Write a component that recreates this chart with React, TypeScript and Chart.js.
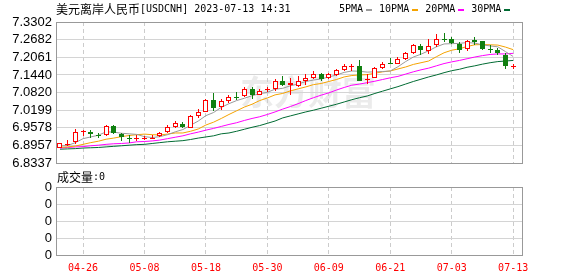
import React, { useEffect, useRef } from 'react';
import { Chart, registerables } from 'chart.js';

Chart.register(...registerables);

// ---------- data ----------
const dates = [
  '04-21', '04-24', '04-25', '04-26', '04-27', '04-28', '05-01', '05-02', '05-03', '05-04',
  '05-05', '05-08', '05-09', '05-10', '05-11', '05-12', '05-15', '05-16', '05-17', '05-18',
  '05-19', '05-22', '05-23', '05-24', '05-25', '05-26', '05-29', '05-30', '05-31', '06-01',
  '06-02', '06-05', '06-06', '06-07', '06-08', '06-09', '06-12', '06-13', '06-14', '06-15',
  '06-16', '06-19', '06-20', '06-21', '06-22', '06-23', '06-26', '06-27', '06-28', '06-29',
  '06-30', '07-03', '07-04', '07-05', '07-06', '07-07', '07-10', '07-11', '07-12', '07-13',
];

const open = [
  6.888, 6.900, 6.909, 6.946, 6.944, 6.933, 6.933, 6.965, 6.935, 6.924,
  6.923, 6.922, 6.923, 6.929, 6.943, 6.960, 6.971, 6.958, 7.000, 7.015,
  7.055, 7.030, 7.051, 7.067, 7.070, 7.095, 7.074, 7.092, 7.095, 7.121,
  7.110, 7.106, 7.124, 7.135, 7.149, 7.133, 7.144, 7.161, 7.176, 7.177,
  7.129, 7.135, 7.167, 7.185, 7.184, 7.201, 7.222, 7.245, 7.228, 7.249,
  7.270, 7.270, 7.254, 7.236, 7.268, 7.262, 7.237, 7.233, 7.214, 7.174,
];
const high = [
  6.906, 6.916, 6.954, 6.952, 6.952, 6.940, 6.967, 6.969, 6.940, 6.933,
  6.933, 6.928, 6.934, 6.944, 6.969, 6.982, 6.978, 7.003, 7.026, 7.061,
  7.080, 7.058, 7.072, 7.084, 7.101, 7.101, 7.095, 7.101, 7.129, 7.141,
  7.135, 7.139, 7.147, 7.158, 7.152, 7.152, 7.164, 7.183, 7.183, 7.196,
  7.147, 7.172, 7.190, 7.204, 7.206, 7.224, 7.253, 7.253, 7.271, 7.287,
  7.291, 7.276, 7.260, 7.268, 7.276, 7.264, 7.249, 7.239, 7.222, 7.182,
];
const low = [
  6.886, 6.893, 6.900, 6.929, 6.923, 6.921, 6.930, 6.937, 6.912, 6.906,
  6.912, 6.917, 6.919, 6.926, 6.940, 6.958, 6.958, 6.956, 6.994, 7.013,
  7.017, 7.021, 7.047, 7.055, 7.067, 7.061, 7.072, 7.084, 7.089, 7.106,
  7.072, 7.101, 7.109, 7.129, 7.121, 7.129, 7.141, 7.158, 7.158, 7.122,
  7.112, 7.133, 7.164, 7.181, 7.181, 7.198, 7.216, 7.214, 7.219, 7.242,
  7.260, 7.253, 7.222, 7.228, 7.251, 7.233, 7.222, 7.214, 7.165, 7.165,
];
const close = [
  6.903, 6.901, 6.943, 6.947, 6.935, 6.932, 6.963, 6.940, 6.927, 6.923,
  6.924, 6.923, 6.924, 6.940, 6.960, 6.974, 6.962, 7.001, 7.013, 7.055,
  7.029, 7.051, 7.067, 7.066, 7.095, 7.074, 7.088, 7.093, 7.121, 7.110,
  7.116, 7.121, 7.135, 7.149, 7.129, 7.149, 7.160, 7.177, 7.177, 7.124,
  7.130, 7.167, 7.184, 7.184, 7.200, 7.220, 7.249, 7.230, 7.245, 7.270,
  7.269, 7.256, 7.233, 7.264, 7.260, 7.237, 7.236, 7.220, 7.176, 7.175,
];

const ma5 = [
  6.894, 6.896, 6.906, 6.920, 6.926, 6.932, 6.944, 6.943, 6.939, 6.937,
  6.935, 6.927, 6.924, 6.927, 6.934, 6.944, 6.952, 6.967, 6.982, 7.001,
  7.012, 7.030, 7.043, 7.054, 7.062, 7.071, 7.078, 7.083, 7.094, 7.097,
  7.106, 7.112, 7.121, 7.126, 7.130, 7.137, 7.144, 7.153, 7.158, 7.157,
  7.154, 7.155, 7.156, 7.158, 7.173, 7.191, 7.207, 7.217, 7.229, 7.243,
  7.253, 7.254, 7.255, 7.258, 7.256, 7.250, 7.246, 7.243, 7.226, 7.209,
];
const ma10 = [
  6.889, 6.891, 6.894, 6.900, 6.906, 6.911, 6.918, 6.922, 6.927, 6.931,
  6.934, 6.936, 6.934, 6.933, 6.936, 6.940, 6.940, 6.946, 6.954, 6.968,
  6.978, 6.991, 7.005, 7.018, 7.031, 7.041, 7.054, 7.063, 7.074, 7.079,
  7.088, 7.095, 7.102, 7.110, 7.114, 7.121, 7.128, 7.137, 7.142, 7.144,
  7.145, 7.150, 7.155, 7.158, 7.165, 7.172, 7.181, 7.187, 7.193, 7.208,
  7.222, 7.231, 7.236, 7.244, 7.250, 7.251, 7.250, 7.249, 7.242, 7.233,
];
const ma20 = [
  6.887, 6.889, 6.891, 6.892, 6.895, 6.897, 6.900, 6.902, 6.903, 6.905,
  6.909, 6.910, 6.912, 6.915, 6.920, 6.925, 6.930, 6.937, 6.943, 6.950,
  6.956, 6.963, 6.970, 6.976, 6.984, 6.991, 6.997, 7.005, 7.014, 7.024,
  7.033, 7.043, 7.054, 7.064, 7.073, 7.081, 7.091, 7.100, 7.108, 7.112,
  7.117, 7.122, 7.128, 7.134, 7.139, 7.147, 7.155, 7.162, 7.168, 7.176,
  7.184, 7.190, 7.195, 7.201, 7.207, 7.212, 7.216, 7.218, 7.218, 7.220,
];
const ma30 = [
  6.883, 6.884, 6.885, 6.887, 6.888, 6.889, 6.891, 6.893, 6.895, 6.897,
  6.899, 6.900, 6.903, 6.906, 6.909, 6.911, 6.913, 6.917, 6.922, 6.926,
  6.930, 6.937, 6.940, 6.946, 6.953, 6.960, 6.966, 6.974, 6.982, 6.993,
  7.000, 7.007, 7.014, 7.020, 7.027, 7.034, 7.041, 7.049, 7.057, 7.064,
  7.070, 7.079, 7.087, 7.095, 7.103, 7.112, 7.121, 7.129, 7.137, 7.144,
  7.152, 7.159, 7.164, 7.171, 7.176, 7.182, 7.187, 7.191, 7.193, 7.195,
];

const volume = [
  0, 0, 0, 0, 0, 0, 0, 0, 0, 0, 0, 0, 0, 0, 0, 0, 0, 0, 0, 0,
  0, 0, 0, 0, 0, 0, 0, 0, 0, 0, 0, 0, 0, 0, 0, 0, 0, 0, 0, 0,
  0, 0, 0, 0, 0, 0, 0, 0, 0, 0, 0, 0, 0, 0, 0, 0, 0, 0, 0, 0,
];

const yTicks = [6.8337, 6.8957, 6.9578, 7.0199, 7.082, 7.144, 7.2061, 7.2682, 7.3302];
const yTickLabels = ['6.8337', '6.8957', '6.9578', '7.0199', '7.0820', '7.1440', '7.2061', '7.2682', '7.3302'];
const xTickLabels = ['04-26', '05-08', '05-18', '05-30', '06-09', '06-21', '07-03', '07-13'];
const volTicks = [0, 1, 2, 3, 4];
const volTickLabels = ['0', '0', '0', '0', '0'];

const titleCn = '美元离岸人民币';
const titleCode = '[USDCNH] 2023-07-13 14:31';
const volLabelCn = '成交量';
const volLabelValue = ':0';
const maNames = ['5PMA', '10PMA', '20PMA', '30PMA'];
const watermark = '东方财富';

// ---------- styles ----------
const UP = '#ff0000';
const DOWN = '#108010';
const maColors = ['#9a9a9a', '#f5a300', '#ff00ff', '#006b33'];
const MONO = '"DejaVu Sans Mono", "Liberation Mono", monospace';
const CJK = '"Noto Sans CJK SC", "Noto Sans", sans-serif';
const SANS = '"Liberation Sans", Arial, sans-serif';
const X_MIN = -0.52;
const X_MAX = 60.15;

const tickIdx = xTickLabels.map((l) => dates.indexOf(l));
const candleColor = dates.map((_, i) => (close[i] >= open[i] ? UP : DOWN));
const bodyFill = dates.map((_, i) => {
  if (Math.abs(close[i] - open[i]) < 0.0015) return candleColor[i];
  return close[i] > open[i] ? '#ffffff' : DOWN;
});

const align = (v: number) => Math.round(v - 0.5) + 0.5;

const framePlugin = {
  id: 'frame',
  afterDatasetsDraw(chart: any) {
    const { ctx, chartArea: a } = chart;
    ctx.save();
    ctx.strokeStyle = '#999999';
    ctx.lineWidth = 1;
    const l = align(a.left), r = align(a.right), t = align(a.top), b = align(a.bottom);
    ctx.strokeRect(l, t, r - l, b - t);
    ctx.restore();
  },
};

const snapPlugin = {
  id: 'snap',
  beforeDatasetsDraw(chart: any) {
    chart.data.datasets.forEach((_ds: any, di: number) => {
      const meta = chart.getDatasetMeta(di);
      if (meta.type !== 'bar') return;
      meta.data.forEach((el: any) => {
        el.x = Math.floor(el.x) + 0.5;
        const y = Math.round(el.y);
        let b = Math.round(el.base);
        if (y === b) b = y + 1;
        el.y = y;
        el.base = b;
      });
    });
  },
};

function drawText(ctx: CanvasRenderingContext2D, text: string, x: number, y: number, font: string, color: string) {
  ctx.font = font;
  ctx.fillStyle = color;
  ctx.textAlign = 'left';
  ctx.textBaseline = 'middle';
  ctx.fillText(text, x, y);
  return ctx.measureText(text).width;
}

const mainTextPlugin = {
  id: 'mainText',
  beforeDraw(chart: any) {
    const ctx = chart.ctx;
    ctx.save();
    ctx.font = `bold 34px ${CJK}`;
    ctx.fillStyle = 'rgba(0,0,0,0.08)';
    ctx.textBaseline = 'middle';
    ctx.textAlign = 'left';
    ctx.fillText(watermark, 240, 92);
    ctx.restore();
  },
  afterDraw(chart: any) {
    const ctx = chart.ctx;
    ctx.save();
    const x0 = chart.chartArea.left;
    const w = drawText(ctx, titleCn, x0, 9, `12px ${CJK}`, '#000');
    drawText(ctx, titleCode, x0 + w, 9, `10px ${MONO}`, '#000');
    let x = 339;
    maNames.forEach((n, k) => {
      const tw = drawText(ctx, n, x, 9, `10px ${MONO}`, '#000');
      x += tw + 3;
      ctx.fillStyle = maColors[k];
      ctx.fillRect(Math.round(x), 9, 6, 2);
      x += 6 + 7;
    });
    ctx.restore();
  },
};

const volTextPlugin = {
  id: 'volText',
  afterDraw(chart: any) {
    const ctx = chart.ctx;
    ctx.save();
    const w = drawText(ctx, volLabelCn, 57, 9.5, `12px ${CJK}`, '#000');
    drawText(ctx, volLabelValue, 57 + w, 9.5, `10px ${MONO}`, '#000');
    ctx.restore();
  },
};

function xScale(showLabels: boolean) {
  return {
    type: 'linear',
    min: X_MIN,
    max: X_MAX,
    offset: false,
    afterBuildTicks: (s: any) => {
      s.ticks = tickIdx.map((v) => ({ value: v }));
    },
    grid: { offset: false, color: '#cccccc', lineWidth: 1, drawTicks: false },
    border: { display: false, dash: [4, 3] },
    ticks: {
      display: showLabels,
      autoSkip: false,
      maxRotation: 0,
      padding: 6.5,
      color: '#ff0000',
      font: { family: MONO, size: 10 },
      callback: (v: any) => dates[v] ?? '',
    },
    afterFit: (s: any) => {
      s.height = showLabels ? 20.5 : 0;
    },
  };
}

export default function App() {
  const mainRef = useRef<HTMLCanvasElement>(null);
  const volRef = useRef<HTMLCanvasElement>(null);

  useEffect(() => {
    const bodyData = dates.map((_, i) => ({ x: i, y: [open[i], close[i]] }));
    const wickData = dates.map((_, i) => ({ x: i, y: [low[i], high[i]] }));
    const maSeries = [ma5, ma10, ma20, ma30];

    const main = new Chart(mainRef.current as HTMLCanvasElement, {
      type: 'bar',
      data: {
        datasets: [
          {
            type: 'bar',
            label: 'K',
            data: bodyData as any,
            backgroundColor: bodyFill,
            borderColor: candleColor,
            borderWidth: 1,
            borderSkipped: false,
            grouped: false,
            barPercentage: 1,
            categoryPercentage: 1,
            barThickness: 5,
            maxBarThickness: 5,
            inflateAmount: 0,
            order: 0,
          } as any,
          {
            type: 'bar',
            label: 'HL',
            data: wickData as any,
            backgroundColor: candleColor,
            borderWidth: 0,
            grouped: false,
            barPercentage: 1,
            categoryPercentage: 1,
            barThickness: 1,
            maxBarThickness: 1,
            inflateAmount: 0,
            order: 1,
          } as any,
          ...maSeries.map((s, k) => ({
            type: 'line',
            label: maNames[k],
            data: s.map((v, i) => ({ x: i, y: v })),
            borderColor: maColors[k],
            borderWidth: 1,
            pointRadius: 0,
            fill: false,
            tension: 0,
            order: 2 + k,
          })) as any,
        ],
      },
      options: {
        animation: false,
        responsive: false,
        devicePixelRatio: 1,
        events: [],
        layout: { padding: { top: 22, right: 56, bottom: 8.6, left: 0 } },
        plugins: { legend: { display: false }, tooltip: { enabled: false }, title: { display: false } },
        scales: {
          x: xScale(false) as any,
          y: {
            type: 'linear',
            min: yTicks[0],
            max: yTicks[yTicks.length - 1],
            beginAtZero: false,
            afterBuildTicks: (s: any) => {
              s.ticks = yTicks.map((v) => ({ value: v }));
            },
            grid: { color: '#d4d4d4', lineWidth: 1, drawTicks: false },
            border: { display: false },
            ticks: {
              autoSkip: false,
              padding: 4,
              color: '#000',
              font: { family: SANS, size: 13 },
              callback: (_v: any, i: number) => yTickLabels[i],
            },
            afterFit: (s: any) => {
              s.width = 56;
            },
          } as any,
        },
      },
      plugins: [mainTextPlugin, snapPlugin, framePlugin],
    } as any);

    const vol = new Chart(volRef.current as HTMLCanvasElement, {
      type: 'bar',
      data: {
        datasets: [
          {
            label: '成交量',
            data: volume.map((v, i) => ({ x: i, y: v })) as any,
            backgroundColor: '#999999',
            borderWidth: 0,
            grouped: false,
            barThickness: 5,
            maxBarThickness: 5,
            inflateAmount: 0,
          } as any,
        ],
      },
      options: {
        animation: false,
        responsive: false,
        devicePixelRatio: 1,
        events: [],
        layout: { padding: { top: 19, right: 56, bottom: 0, left: 0 } },
        plugins: { legend: { display: false }, tooltip: { enabled: false } },
        scales: {
          x: xScale(true) as any,
          y: {
            type: 'linear',
            min: 0,
            max: 4,
            afterBuildTicks: (s: any) => {
              s.ticks = volTicks.map((v) => ({ value: v }));
            },
            grid: { color: '#d4d4d4', lineWidth: 1, drawTicks: false },
            border: { display: false },
            ticks: {
              autoSkip: false,
              padding: 4,
              color: '#000',
              font: { family: SANS, size: 13 },
              callback: (_v: any, i: number) => volTickLabels[i],
            },
            afterFit: (s: any) => {
              s.width = 56;
            },
          } as any,
        },
      },
      plugins: [volTextPlugin, framePlugin],
    } as any);

    return () => {
      main.destroy();
      vol.destroy();
    };
  }, []);

  return (
    <div style={{ position: 'absolute', left: 0, top: 0, width: 578, height: 276, background: '#ffffff' }}>
      <canvas
        ref={mainRef}
        width={578}
        height={175}
        style={{ position: 'absolute', left: 0, top: 0, width: 578, height: 175 }}
      />
      <canvas
        ref={volRef}
        width={578}
        height={108}
        style={{ position: 'absolute', left: 0, top: 168, width: 578, height: 108 }}
      />
    </div>
  );
}
